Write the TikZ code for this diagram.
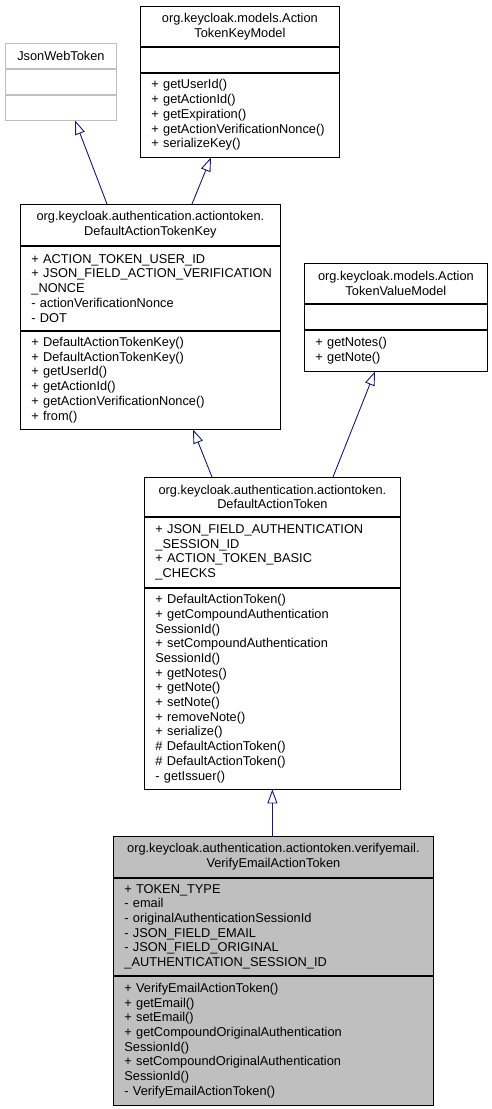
\documentclass[tikz,border=0pt]{standalone}
\usepackage{fontspec}
\setmainfont{Liberation Sans}
\usepackage{tikz}
\usetikzlibrary{positioning,calc,arrows.meta}
\definecolor{edgeblue}{HTML}{191970}
\definecolor{greyline}{HTML}{BFBFBF}
\definecolor{greyfill}{HTML}{BFBFBF}
\newcommand{\umlfont}{\fontsize{12.8}{14.7}\selectfont}
\tikzset{
  part/.style 2 args={draw, line width=0.8pt, inner xsep=11pt, inner ysep=0pt, text width=#1, minimum height=#2, align=left, font=\umlfont},
  head/.style 2 args={part={#1}{#2}, align=center, anchor=north west},
  inherit/.style={draw=edgeblue, line width=0.9pt, -{Triangle[open,length=14pt,width=10pt]}},
}

\begin{document}
\begin{tikzpicture}[x=1pt,y=-1pt]
\useasboundingbox (0,0) rectangle (492,1109);

% JsonWebToken
\node[head={89pt}{25pt}, draw=greyline] (jwt) at (5,43) {JsonWebToken};
\node[part={89pt}{25pt}, draw=greyline, below=0pt of jwt] (jwtA) {};
\node[part={89pt}{25pt}, draw=greyline, below=0pt of jwtA] (jwtM) {};

% ActionTokenKeyModel
\node[head={177pt}{40pt}] (atkm) at (140,6) {org.keycloak.models.Action\\TokenKeyModel};
\node[part={177pt}{25pt}, below=0pt of atkm] (atkmA) {};
\node[part={177pt}{84pt}, below=0pt of atkmA] (atkmM) {+ getUserId()\\+ getActionId()\\+ getExpiration()\\+~getActionVerificationNonce()\\+ serializeKey()};

% DefaultActionTokenKey
\node[head={238pt}{41pt}] (datk) at (20,204) {org.keycloak.authentication.actiontoken.\\DefaultActionTokenKey};
\node[part={238pt}{84pt}, below=0pt of datk] (datkA) {+ ACTION\_TOKEN\_USER\_ID\\+~JSON\_FIELD\_ACTION\_VERIFICATION\\\_NONCE\\- actionVerificationNonce\\- DOT};
\node[part={238pt}{98pt}, below=0pt of datkA] (datkM) {+ DefaultActionTokenKey()\\+ DefaultActionTokenKey()\\+ getUserId()\\+ getActionId()\\+ getActionVerificationNonce()\\+ from()};

% ActionTokenValueModel
\node[head={161pt}{40pt}] (atvm) at (304,263) {org.keycloak.models.Action\\TokenValueModel};
\node[part={161pt}{25pt}, below=0pt of atvm] (atvmA) {};
\node[part={161pt}{41pt}, below=0pt of atvmA] (atvmM) {+ getNotes()\\+ getNote()};

% DefaultActionToken
\node[head={234pt}{39pt}] (dat) at (144,477) {org.keycloak.authentication.actiontoken.\\DefaultActionToken};
\node[part={234pt}{70pt}, below=0pt of dat] (datA) {+ JSON\_FIELD\_AUTHENTICATION\\\_SESSION\_ID\\+ ACTION\_TOKEN\_BASIC\\\_CHECKS};
\node[part={234pt}{201pt}, below=0pt of datA] (datM) {+ DefaultActionToken()\\+ getCompoundAuthentication\\SessionId()\\+ setCompoundAuthentication\\SessionId()\\+ getNotes()\\+ getNote()\\+ setNote()\\+ removeNote()\\+ serialize()\\\# DefaultActionToken()\\\# DefaultActionToken()\\- getIssuer()};

% VerifyEmailActionToken
\node[head={298pt}{41pt}, fill=greyfill] (veat) at (113,836) {org.keycloak.authentication.actiontoken.verifyemail.\\VerifyEmailActionToken};
\node[part={298pt}{97pt}, fill=greyfill, below=0pt of veat] (veatA) {+ TOKEN\_TYPE\\- email\\- originalAuthenticationSessionId\\- JSON\_FIELD\_EMAIL\\- JSON\_FIELD\_ORIGINAL\\\_AUTHENTICATION\_SESSION\_ID};
\node[part={298pt}{129pt}, fill=greyfill, below=0pt of veatA] (veatM) {+ VerifyEmailActionToken()\\+ getEmail()\\+ setEmail()\\+ getCompoundOriginalAuthentication\\SessionId()\\+ setCompoundOriginalAuthentication\\SessionId()\\- VerifyEmailActionToken()};

% inheritance
\draw[inherit] ($(datk.north west)+(87,0)$) -- ($(jwtM.south west)+(70,0)$);
\draw[inherit] ($(datk.north west)+(172,0)$) -- ($(atkmM.south west)+(71,0)$);
\draw[inherit] ($(dat.north west)+(68,0)$) -- ($(datkM.south west)+(173,0)$);
\draw[inherit] ($(dat.north west)+(189,0)$) -- ($(atvmM.south west)+(71,0)$);
\draw[inherit] (veat.north -| datM.south) -- (datM.south);
\end{tikzpicture}
\end{document}
